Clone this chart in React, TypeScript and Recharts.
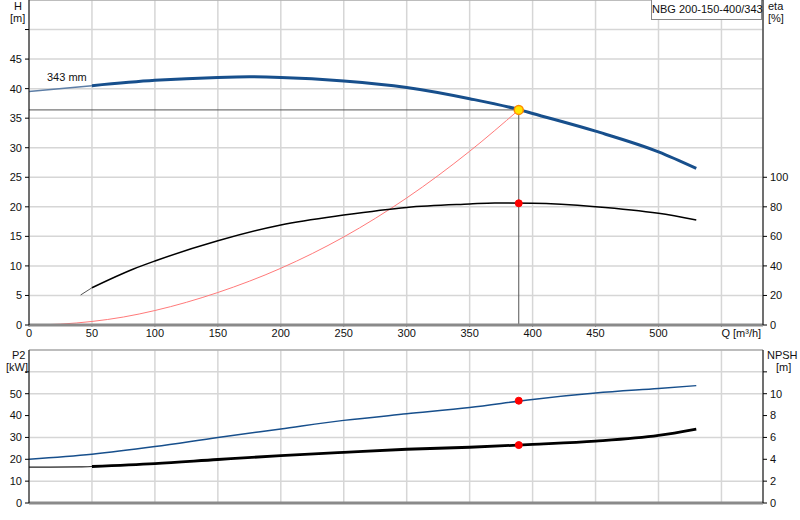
import React from "react";
import {
  ComposedChart,
  Line,
  XAxis,
  YAxis,
  CartesianGrid,
  ReferenceLine,
  ReferenceDot,
} from "recharts";

// Q axis ticks [m³/h]
const qTicks = [0, 50, 100, 150, 200, 250, 300, 350, 400, 450, 500, 550];

// pump curve H [m]
const qH = [0, 50, 100, 150, 175, 200, 250, 300, 350, 390, 400, 450, 500, 530];
const hValues = [39.5, 40.5, 41.4, 41.9, 42.0, 41.9, 41.3, 40.2, 38.3, 36.4, 35.8, 32.8, 29.3, 26.5];

// efficiency eta [%]
const qEta = [41, 50, 83, 100, 150, 200, 250, 300, 350, 370, 400, 450, 500, 530];
const etaValues = [20.3, 25.2, 37.9, 43.3, 57.0, 67.7, 74.4, 79.6, 81.9, 82.6, 82.4, 80.1, 75.6, 71.1];

// system curve H [m]
const qSys = [0, 25, 50, 75, 100, 150, 200, 250, 300, 350, 389];
const sysValues = [0, 0.15, 0.6, 1.35, 2.45, 5.5, 9.6, 14.9, 21.5, 29.4, 36.4];

// power P2 [kW]
const qP2 = [0, 50, 100, 150, 200, 250, 300, 350, 400, 450, 500, 530];
const p2Values = [20, 22.3, 25.8, 30, 33.9, 37.8, 40.8, 43.7, 47.4, 50.3, 52.4, 53.7];

// NPSH [m]
const qNpsh = [0, 40, 50, 100, 150, 200, 250, 300, 350, 400, 450, 500, 530];
const npshValues = [3.28, 3.3, 3.34, 3.6, 3.98, 4.34, 4.64, 4.92, 5.1, 5.36, 5.66, 6.18, 6.76];

// duty point
const dutyQ = 389;
const dutyH = 36.4;
const dutyEta = 82.4;
const dutyP2 = 46.8;
const dutyNpsh = 5.3;

const hTicks = [0, 5, 10, 15, 20, 25, 30, 35, 40, 45, 50];
const etaTicks = [0, 20, 40, 60, 80, 100];
const p2Ticks = [0, 10, 20, 30, 40, 50, 60];
const npshTicks = [0, 2, 4, 6, 8, 10, 12];

const THIN_END = 50;

const toRows = (qs: number[], vs: number[]) => qs.map((q, i) => ({ q, v: vs[i] }));
const thin = (rows: { q: number; v: number }[]) => rows.filter((r) => r.q <= THIN_END);
const thick = (rows: { q: number; v: number }[]) => rows.filter((r) => r.q >= THIN_END);

const hRows = toRows(qH, hValues);
const etaRows = toRows(qEta, etaValues);
const sysRows = toRows(qSys, sysValues);
const p2Rows = toRows(qP2, p2Values);
const npshRows = toRows(qNpsh, npshValues);

const FONT = "Arial, 'Liberation Sans', sans-serif";
const tickStyle = { fontSize: 11, fill: "#111", fontFamily: FONT };

const QTick = (props: any) => {
  const { x, y, payload } = props;
  const last = payload.value === 550;
  return (
    <text
      x={x}
      y={y}
      dy="0.71em"
      textAnchor={last ? "start" : "middle"}
      fontSize={11}
      fontFamily={FONT}
      fill="#111"
    >
      {last ? "Q [m³/h]" : payload.value}
    </text>
  );
};

const label = (text: string, left: number, top: number) => (
  <div
    style={{
      position: "absolute",
      left,
      top,
      fontSize: 11,
      fontFamily: FONT,
      color: "#111",
      lineHeight: "12px",
      whiteSpace: "nowrap",
    }}
  >
    {text}
  </div>
);

const BLUE = "#174f8c";

const App = () => {
  return (
    <div style={{ position: "absolute", left: 0, top: 0, width: 800, height: 520, background: "#fff" }}>
      <div style={{ position: "absolute", left: 0, top: 0 }}>
        <ComposedChart width={800} height={340} margin={{ top: 0, right: 0, bottom: 0, left: 0 }}>
          <CartesianGrid stroke="#d6d6d6" strokeWidth={1.5} yAxisId="h" ticks={hTicks} />
          <XAxis
            type="number"
            dataKey="q"
            domain={[0, 583]}
            ticks={qTicks}
            height={15}
            tickSize={2}
            tickLine={{ stroke: "#888" }}
            axisLine={{ stroke: "#8a8a8a", strokeWidth: 3 }}
            tick={<QTick />}
            allowDataOverflow
          />
          <YAxis
            yAxisId="h"
            type="number"
            domain={[0, 55]}
            ticks={hTicks}
            tickFormatter={(v) => (v === 50 ? "" : String(v))}
            width={29}
            tickSize={4}
            tickMargin={3}
            axisLine={{ stroke: "#000" }}
            tickLine={{ stroke: "#000" }}
            tick={tickStyle}
          />
          <YAxis
            yAxisId="eta"
            orientation="right"
            type="number"
            domain={[0, 220]}
            ticks={etaTicks}
            width={37}
            tickSize={4}
            tickMargin={3}
            axisLine={{ stroke: "#000" }}
            tickLine={{ stroke: "#000" }}
            tick={tickStyle}
          />
          <ReferenceLine yAxisId="h" y={55} stroke="#999" />
          <Line yAxisId="h" data={sysRows} dataKey="v" type="monotone" stroke="#ff7a7a" strokeWidth={1} dot={false} isAnimationActive={false} />
          <Line yAxisId="eta" data={thin(etaRows)} dataKey="v" type="linear" stroke="#555" strokeWidth={1} dot={false} isAnimationActive={false} />
          <Line yAxisId="eta" data={thick(etaRows)} dataKey="v" type="monotone" stroke="#000" strokeWidth={1.5} dot={false} isAnimationActive={false} />
          <Line yAxisId="h" data={thin(hRows)} dataKey="v" type="monotone" stroke="#5d7ea6" strokeWidth={1.5} dot={false} isAnimationActive={false} />
          <Line yAxisId="h" data={thick(hRows)} dataKey="v" type="monotone" stroke={BLUE} strokeWidth={3} dot={false} isAnimationActive={false} />
          <ReferenceLine
            yAxisId="h"
            segment={[{ x: 0, y: dutyH }, { x: dutyQ, y: dutyH }]}
            stroke="#555"
            strokeWidth={1}
          />
          <ReferenceLine
            yAxisId="h"
            segment={[{ x: dutyQ, y: 0 }, { x: dutyQ, y: dutyH }]}
            stroke="#555"
            strokeWidth={1}
          />
          <ReferenceDot yAxisId="eta" x={dutyQ} y={dutyEta} r={3.5} fill="#ff0000" stroke="#ff0000" />
          <ReferenceDot yAxisId="h" x={dutyQ} y={dutyH} r={4.5} fill="#ffe600" stroke="#ff8a00" strokeWidth={1.5} />
        </ComposedChart>
      </div>

      <div style={{ position: "absolute", left: 0, top: 340 }}>
        <ComposedChart width={800} height={180} margin={{ top: 10, right: 0, bottom: 0, left: 0 }}>
          <CartesianGrid stroke="#d6d6d6" strokeWidth={1.5} yAxisId="p2" ticks={p2Ticks} />
          <XAxis
            type="number"
            dataKey="q"
            domain={[0, 583]}
            ticks={qTicks}
            height={17}
            tickLine={false}
            axisLine={{ stroke: "#8a8a8a", strokeWidth: 3 }}
            tickFormatter={() => ""}
            allowDataOverflow
          />
          <YAxis
            yAxisId="p2"
            type="number"
            domain={[0, 70]}
            ticks={p2Ticks}
            tickFormatter={(v) => (v === 60 ? "" : String(v))}
            width={29}
            tickSize={4}
            tickMargin={3}
            axisLine={{ stroke: "#000" }}
            tickLine={{ stroke: "#000" }}
            tick={tickStyle}
          />
          <YAxis
            yAxisId="npsh"
            orientation="right"
            type="number"
            domain={[0, 14]}
            ticks={npshTicks}
            tickFormatter={(v) => (v === 12 ? "" : String(v))}
            width={37}
            tickSize={4}
            tickMargin={3}
            axisLine={{ stroke: "#000" }}
            tickLine={{ stroke: "#000" }}
            tick={tickStyle}
          />
          <ReferenceLine yAxisId="p2" y={70} stroke="#999" />
          <Line yAxisId="p2" data={p2Rows} dataKey="v" type="monotone" stroke={BLUE} strokeWidth={1.5} dot={false} isAnimationActive={false} />
          <Line yAxisId="npsh" data={thin(npshRows)} dataKey="v" type="monotone" stroke="#222" strokeWidth={1.2} dot={false} isAnimationActive={false} />
          <Line yAxisId="npsh" data={thick(npshRows)} dataKey="v" type="monotone" stroke="#000" strokeWidth={2.8} dot={false} isAnimationActive={false} />
          <ReferenceDot yAxisId="p2" x={dutyQ} y={dutyP2} r={3.5} fill="#ff0000" stroke="#ff0000" />
          <ReferenceDot yAxisId="npsh" x={dutyQ} y={dutyNpsh} r={3.5} fill="#ff0000" stroke="#ff0000" />
        </ComposedChart>
      </div>

      {label("H", 14, 0)}
      {label("[m]", 10, 12)}
      {label("eta", 768, 0)}
      {label("[%]", 768, 12)}
      {label("343 mm", 47, 71)}
      {label("P2", 12, 349)}
      {label("[kW]", 6, 361)}
      {label("NPSH", 767, 349)}
      {label("[m]", 776, 361)}
      <div
        style={{
          position: "absolute",
          left: 651,
          top: -1,
          width: 109,
          height: 19,
          border: "1px solid #888",
          background: "#fff",
          fontSize: 11,
          fontFamily: FONT,
          color: "#111",
          lineHeight: "19px",
          textAlign: "center",
          whiteSpace: "nowrap",
        }}
      >
        NBG 200-150-400/343
      </div>
    </div>
  );
};

export default App;
